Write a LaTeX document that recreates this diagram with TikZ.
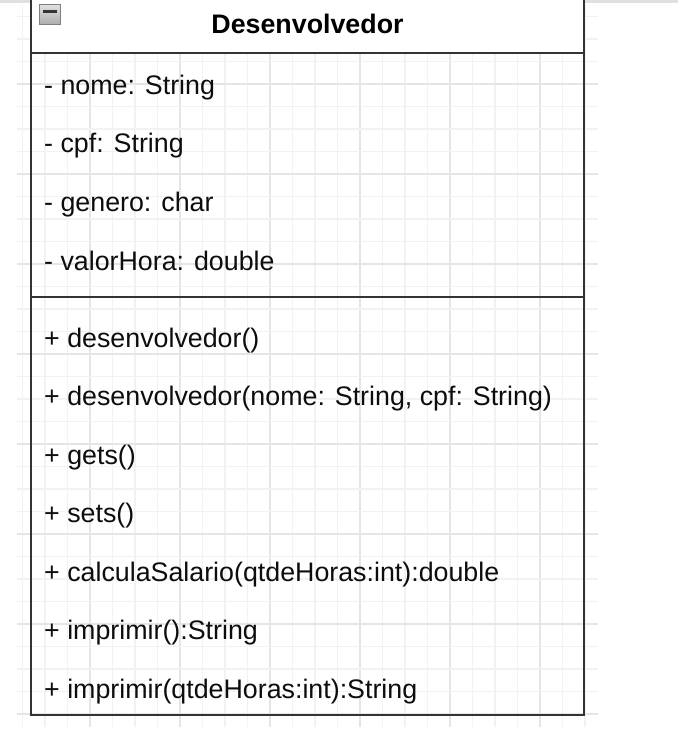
\documentclass[tikz,border=0pt]{standalone}
\usepackage{fontspec}
\setmainfont{Liberation Sans}
\begin{document}
\begin{tikzpicture}[x=1pt,y=-1pt,
  txt/.style={anchor=base west,inner sep=0pt,text=black!95,font=\fontsize{26.8}{32}\selectfont},
  hdr/.style={anchor=base,inner sep=0pt,text=black,font=\fontsize{26.8}{32}\selectfont\bfseries},
  border/.style={draw=black!80,line width=2.4pt},
  minorgrid/.style={draw=black!5,line width=1.2pt},
  majorgrid/.style={draw=black!10,line width=1.2pt}]
\useasboundingbox (0,0) rectangle (678,735);
\clip (0,0) rectangle (678,735);
\fill[white] (0,0) rectangle (678,735);
% grid
\foreach \k in {1,...,26}{
  \pgfmathtruncatemacro{\m}{mod(\k,4)}
  \ifnum\m=0 \draw[majorgrid] (22.5*\k,5) -- (22.5*\k,727);
  \else \draw[minorgrid] (22.5*\k,5) -- (22.5*\k,727); \fi
}
\foreach \k in {0,...,31}{
  \pgfmathtruncatemacro{\m}{mod(\k,4)}
  \ifnum\m=3 \draw[majorgrid] (17,16.5+22.5*\k) -- (598,16.5+22.5*\k);
  \else \draw[minorgrid] (17,16.5+22.5*\k) -- (598,16.5+22.5*\k); \fi
}
% top strip
\draw[black!12,line width=2.5pt] (0,1.5) -- (678,1.5);
% class box
\fill[white] (31,-10) rectangle (584,53);
\coordinate (tl) at (31,-10);
\coordinate (tr) at (584,-10);
\coordinate (bl) at (31,715);
\coordinate (br) at (584,715);
\coordinate (h1) at (31,53);
\coordinate (h2) at (584,53);
\coordinate (s1) at (31,297);
\coordinate (s2) at (584,297);
\draw[border] (tl) -- (bl) -- (br) -- (tr);
\draw[border] (h1) -- (h2);
\draw[border] (s1) -- (s2);
% collapse icon
\shade[top color=black!12,bottom color=black!32,draw=black!50,line width=0.8pt] (39.5,4.5) rectangle (60,24);
\draw[black!80,line width=2.6pt] (43,11.5) -- (56.5,11.5);
% header
\node[hdr] (title) at (307.5,33.5) {Desenvolvedor};
% attributes
\node[txt] (a1) at (44,94.5) {- nome: String};
\node[txt] (a2) at (44,153) {- cpf: String};
\node[txt] (a3) at (44,211.5) {- genero: char};
\node[txt] (a4) at (44,270) {- valorHora: double};
% methods
\node[txt] (m1) at (44,347) {+ desenvolvedor()};
\node[txt] (m2) at (44,405.5) {+ desenvolvedor(nome: String, cpf: String)};
\node[txt] (m3) at (44,464) {+ gets()};
\node[txt] (m4) at (44,522.5) {+ sets()};
\node[txt] (m5) at (44,581) {+ calculaSalario(qtdeHoras:int):double};
\node[txt] (m6) at (44,639.5) {+ imprimir():String};
\node[txt] (m7) at (44,698) {+ imprimir(qtdeHoras:int):String};
\end{tikzpicture}
\end{document}
